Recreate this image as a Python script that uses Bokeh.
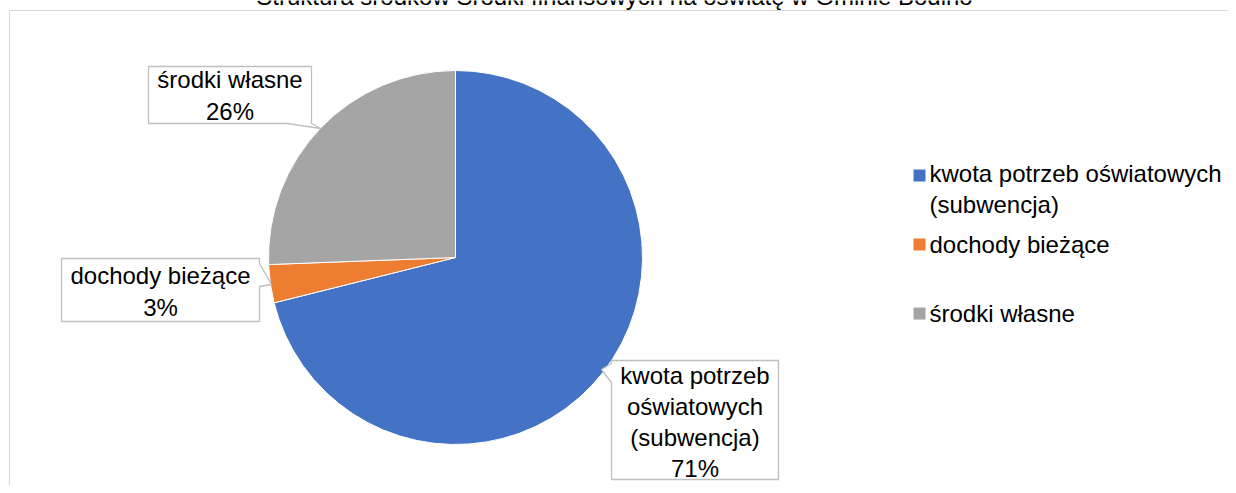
import numpy as np
from bokeh.plotting import figure
from bokeh.models import Range1d, ColumnDataSource
from bokeh.core.properties import value
from bokeh.embed import file_html
from bokeh.resources import INLINE

# ---- data ----
title_text = "Struktura środków Środki finansowych na oświatę w Gminie Bodino"
categories = ["kwota potrzeb oświatowych (subwencja)", "dochody bieżące", "środki własne"]
shares = [71.1, 3.3, 25.6]
colors = ["#4472C4", "#ED7D31", "#A5A5A5"]
callout_names = ["kwota potrzeb\noświatowych\n(subwencja)", "dochody bieżące", "środki własne"]
legend_names = ["kwota potrzeb oświatowych\n(subwencja)", "dochody bieżące", "środki własne"]

# ---- layout helpers (picture px -> data units, 1 unit = 1 px) ----
W, H = 1228, 485
def px(x):
    return x
def py(y):
    return H - y

FONT = value("Liberation Sans")
FS = "24px"
LH = 1.15
TXT = "#000000"

p = figure(width=W, height=H, x_range=Range1d(0, W), y_range=Range1d(0, H),
           output_backend="svg", toolbar_location=None, min_border=0,
           x_axis_location=None, y_axis_location=None)
p.grid.visible = False
p.outline_line_color = None
p.background_fill_color = "white"
p.border_fill_color = "white"

# chart border (top and left edges visible)
p.segment(x0=[px(9), px(9)], y0=[py(10), py(10)], x1=[px(1240), px(9)], y1=[py(10), py(500)],
          line_color="#D9D9D9", line_width=1.2)

# title (cut off at the top edge, as in the reference)
p.text(x=[px(614)], y=[py(-4)], text=[title_text], text_font=FONT, text_font_size=FS,
       text_align="center", text_baseline="alphabetic", text_color=TXT)

# ---- pie ----
frac = np.array(shares) / np.sum(shares)
cum = np.concatenate([[0.0], np.cumsum(frac)])
start = np.pi / 2 - 2 * np.pi * cum[:-1]
end = np.pi / 2 - 2 * np.pi * cum[1:]
cx, cy = px(455), py(257)
src = ColumnDataSource(dict(x=[cx] * len(shares), y=[cy] * len(shares), start=start, end=end,
                            color=colors, cat=categories))
p.wedge(x="x", y="y", radius=187, radius_units="screen", start_angle="start", end_angle="end",
        direction="clock", fill_color="color", line_color="white", line_width=1, source=src)

# ---- callout data labels ----
pct = [f"{round(s)}%" for s in shares]
label_texts = [f"{n}\n{q}" for n, q in zip(callout_names, pct)]

callout_shapes = [
    [(611, 360), (778, 360), (778, 479), (611, 479), (611, 382), (601, 369), (611, 363)],
    [(61, 258), (259, 258), (259, 263), (271, 284), (259, 286), (259, 321), (61, 321)],
    [(148, 66), (311, 66), (311, 123), (320, 128), (287, 123), (148, 123)],
]
xs = [[px(a) for a, b in s] for s in callout_shapes]
ys = [[py(b) for a, b in s] for s in callout_shapes]
p.patches(xs=xs, ys=ys, fill_color="white", line_color="#BFBFBF", line_width=1.3)

label_cx = [694.5, 160, 229.5]
label_cy = [421.5, 291, 95]
p.text(x=[px(v) for v in label_cx], y=[py(v) for v in label_cy], text=label_texts,
       text_font=FONT, text_font_size=FS, text_align="center", text_baseline="middle",
       text_color=TXT, text_line_height=LH)

# ---- legend ----
leg_y = [175, 244, 313]
p.rect(x=[px(919)] * 3, y=[py(v) for v in leg_y], width=12, height=12,
       fill_color=colors, line_color=None)
n_lines = [t.count("\n") + 1 for t in legend_names]
leg_text_y = [v + (n - 1) * 24 * LH / 2 for v, n in zip(leg_y, n_lines)]
p.text(x=[px(929)] * 3, y=[py(v) for v in leg_text_y], text=legend_names,
       text_font=FONT, text_font_size=FS, text_align="left", text_baseline="middle",
       text_color=TXT, text_line_height=LH)

open("out.html", "w").write(file_html(p, INLINE))
